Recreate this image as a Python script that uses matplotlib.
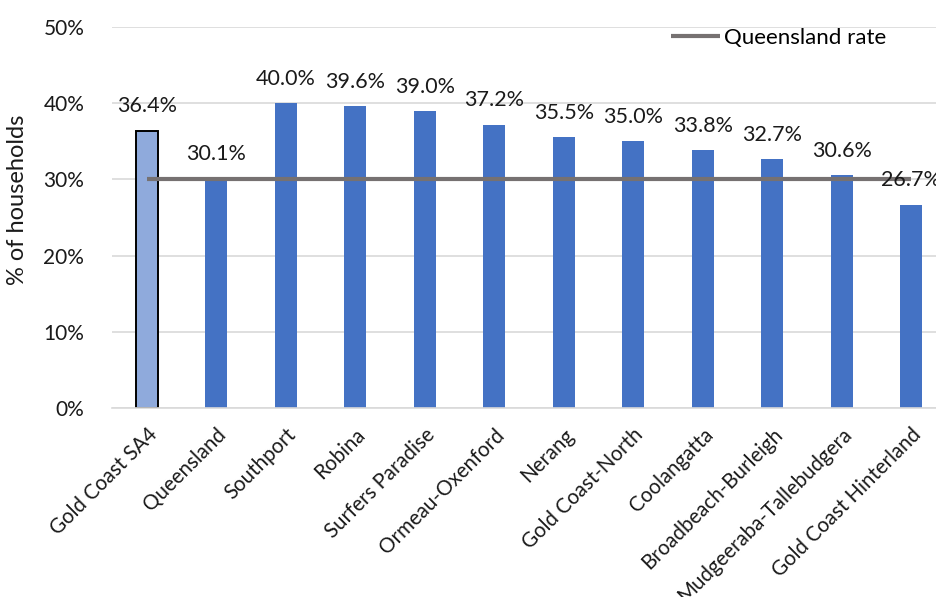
import matplotlib
matplotlib.use("Agg")
import matplotlib.pyplot as plt
from matplotlib.ticker import FuncFormatter

categories = ["Gold Coast SA4", "Queensland", "Southport", "Robina", "Surfers Paradise",
              "Ormeau-Oxenford", "Nerang", "Gold Coast-North", "Coolangatta",
              "Broadbeach-Burleigh", "Mudgeeraba-Tallebudgera", "Gold Coast Hinterland"]
values = [36.4, 30.1, 40.0, 39.6, 39.0, 37.2, 35.5, 35.0, 33.8, 32.7, 30.6, 26.7]
queensland_rate = 30.1
y_ticks = [0, 10, 20, 30, 40, 50]

plt.rcParams["font.family"] = ["Lato", "DejaVu Sans"]

fig = plt.figure(figsize=(9.36, 5.97), dpi=100)
W, H = 936, 597
left_px, right_px, top_px, bottom_px = 112, 946, 27, 408
ax = fig.add_axes([left_px / W, 1 - bottom_px / H,
                   (right_px - left_px) / W, (bottom_px - top_px) / H])

x = list(range(len(categories)))
colors = ["#8faadc"] + ["#4472c4"] * (len(categories) - 1)
bars = ax.bar(x, values, width=0.31, color=colors, zorder=2)
bars[0].set_edgecolor("black")
bars[0].set_linewidth(1.4)

ax.plot([x[0], x[-1]], [queensland_rate] * 2, color="#767171", lw=3,
        solid_capstyle="butt", zorder=3, label="Queensland rate")

for xi, v in zip(x, values):
    ax.annotate(f"{v:.1f}%", (xi, v), xytext=(0, 17.5), textcoords="offset points",
                ha="center", va="center", fontsize=15.5, color="#1a1a1a",
                clip_on=False, zorder=4)

ax.set_xlim(-0.5, len(categories) - 0.5)
ax.set_ylim(0, 50)
ax.set_yticks(y_ticks)
ax.yaxis.set_major_formatter(FuncFormatter(lambda v, _: f"{v:.0f}%"))
ax.grid(axis="y", color="#d9d9d9", lw=1.2, zorder=0)
ax.set_axisbelow(True)
for s in ["top", "right", "left"]:
    ax.spines[s].set_visible(False)
ax.spines["bottom"].set_color("#d9d9d9")
ax.spines["bottom"].set_linewidth(1.2)
ax.tick_params(axis="both", length=0, labelsize=15, colors="#1a1a1a")
ax.tick_params(axis="y", pad=20)
ax.tick_params(axis="x", pad=12)

ax.set_xticks(x)
ax.set_xticklabels(categories, rotation=45, ha="right", va="top",
                   rotation_mode="anchor", fontsize=14.8)

fig.text(18 / W, 1 - 200 / H, "% of households", rotation=90, ha="center",
         va="center", fontsize=17, color="#1a1a1a")

ax.legend(loc="upper left", bbox_to_anchor=((662 - left_px) / (right_px - left_px), 1.0 + 8 / 381),
          frameon=False, fontsize=16, handlelength=2.2, handletextpad=0.2,
          borderaxespad=0)

fig.savefig("out.png", dpi=100)
